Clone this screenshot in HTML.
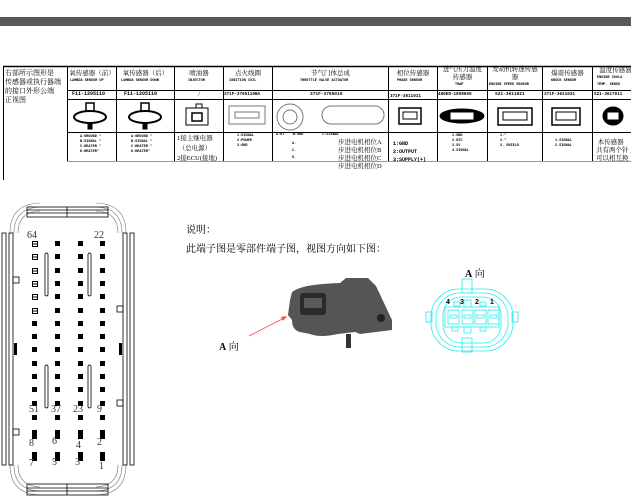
<!DOCTYPE html>
<html><head><meta charset="utf-8"><style>
body{margin:0;width:631px;height:496px;overflow:hidden;background:#fff;position:relative;font-family:"Liberation Serif","Noto Serif CJK SC",serif;color:#000}
.a{position:absolute}
.t{position:absolute;font-size:6.5px;line-height:8px;text-align:center;white-space:nowrap}
.s{position:absolute;font-size:3.5px;line-height:5px;font-family:"Liberation Mono",monospace;font-weight:bold;white-space:nowrap}
.p{position:absolute;width:5px;height:5px;background:#000}
</style></head><body>
<div class="a" style="left:0;top:17px;width:631px;height:9px;background:#595959"></div>

<svg class="a" style="left:0;top:0" width="631" height="200">
<g stroke="#000" stroke-width="1" fill="none">
<line x1="3" y1="66.5" x2="631" y2="66.5" stroke-width="1.5"/>
<line x1="3.5" y1="66" x2="3.5" y2="180"/>
<line x1="67" y1="90.5" x2="631" y2="90.5"/>
<line x1="67" y1="99.5" x2="631" y2="99.5"/>
<line x1="67" y1="132.5" x2="631" y2="132.5"/>
<line x1="67" y1="161.5" x2="631" y2="161.5" stroke="#999"/>
<g>
<line x1="67.5" y1="66" x2="67.5" y2="161"/><line x1="116.5" y1="66" x2="116.5" y2="161"/>
<line x1="174.5" y1="66" x2="174.5" y2="161"/><line x1="223.5" y1="66" x2="223.5" y2="161"/>
<line x1="272.5" y1="66" x2="272.5" y2="161"/><line x1="388.5" y1="66" x2="388.5" y2="161"/>
<line x1="437.5" y1="66" x2="437.5" y2="161"/><line x1="487.5" y1="66" x2="487.5" y2="161"/>
<line x1="542.5" y1="66" x2="542.5" y2="161"/><line x1="592.5" y1="66" x2="592.5" y2="161"/>
</g>
<ellipse cx="90" cy="117" rx="16" ry="6" stroke-width="2"/><rect x="86" y="103" width="8" height="8" stroke-width="1.5"/><rect x="88" y="123" width="4" height="6" fill="#000"/>
<ellipse cx="145" cy="117" rx="16" ry="6" stroke-width="2"/><rect x="141" y="103" width="8" height="8" stroke-width="1.5"/><rect x="143" y="123" width="4" height="6" fill="#000"/>
<rect x="186" y="108" width="22" height="17"/><rect x="192" y="113" width="10" height="8" stroke-width="1.5"/><rect x="196" y="104" width="6" height="4"/>
<rect x="229" y="106" width="36" height="18" stroke="#777"/><rect x="235" y="112" width="24" height="6" stroke="#777"/>
<circle cx="290" cy="117" r="13" stroke="#777"/><circle cx="290" cy="117" r="7" stroke="#777"/>
<rect x="322" y="106" width="62" height="18" rx="9" stroke="#777"/>
<rect x="399" y="108" width="22" height="16" stroke-width="1.5"/><rect x="403" y="112" width="14" height="7"/>
<ellipse cx="462" cy="116" rx="22" ry="7" fill="#000"/><rect x="450" y="112" width="24" height="8" fill="#fff"/>
<rect x="498" y="108" width="34" height="17" stroke-width="1.5"/><rect x="503" y="112" width="24" height="8"/>
<rect x="552" y="108" width="28" height="17" stroke-width="1.5"/><rect x="556" y="112" width="20" height="8"/>
<ellipse cx="613" cy="116" rx="10" ry="9" fill="#000"/><rect x="607" y="112" width="12" height="8" fill="#fff"/>
</g></svg>

<div class="t" style="left:5px;top:69px;text-align:left;font-size:7px;line-height:9px">右部所示图形是<br>传感器或执行器端<br>的接口外形公端<br>正视图</div>
<div class="t" style="left:68px;top:70px;width:48px">氧传感器（前）</div><div class="s" style="left:70px;top:79px">LAMBDA SENSOR UP</div>
<div class="t" style="left:117px;top:70px;width:57px">氧传感器（后）</div><div class="s" style="left:121px;top:79px">LAMBDA SENSOR DOWN</div>
<div class="t" style="left:175px;top:70px;width:48px">喷油器</div><div class="s" style="left:188px;top:79px">INJECTOR</div>
<div class="t" style="left:224px;top:70px;width:48px">点火线圈</div><div class="s" style="left:229px;top:79px">IGNITION COIL</div>
<div class="t" style="left:273px;top:70px;width:115px">节气门体总成</div><div class="s" style="left:300px;top:79px">THROTTLE VALVE ACTUATOR</div>
<div class="t" style="left:389px;top:70px;width:48px">相位传感器</div><div class="s" style="left:397px;top:79px">PHASE SENSOR</div>
<div class="t" style="left:438px;top:66px;width:49px;line-height:7.5px">进气压力温度<br>传感器</div><div class="s" style="left:455px;top:83px">TMAP</div>
<div class="t" style="left:488px;top:66px;width:54px;line-height:7.5px">发动机转速传感<br>器</div><div class="s" style="left:489px;top:83px">ENGINE SPEED SENSOR</div>
<div class="t" style="left:543px;top:70px;width:49px">爆震传感器</div><div class="s" style="left:551px;top:79px">KNOCK SENSOR</div>
<div class="t" style="left:593px;top:67px;width:45px;line-height:7.5px">温度传感器</div><div class="s" style="left:597px;top:75px;line-height:7px">ENGINE COOLA<br>TEMP. SENSO</div>

<div class="s" style="left:72px;top:92px;font-size:5px">F11-1205110</div>
<div class="s" style="left:124px;top:92px;font-size:5px">F11-1205110</div>
<div class="t" style="left:175px;top:91px;width:48px">/</div>
<div class="s" style="left:224px;top:92px;font-size:4.3px">371F-3705110BA</div>
<div class="s" style="left:310px;top:92px;font-size:4.5px">371F-3765010</div>
<div class="s" style="left:390px;top:94px;font-size:4.3px">371F-3611011</div>
<div class="s" style="left:438px;top:92px;font-size:4.3px">480ED-1008060</div>
<div class="s" style="left:495px;top:92px;font-size:4.5px">S21-3611021</div>
<div class="s" style="left:544px;top:92px;font-size:4.3px">371F-3611031</div>
<div class="s" style="left:594px;top:92px;font-size:4.3px">S21-3617011</div>

<div class="s" style="left:80px;top:135px">A:GROUND "<br>B:SIGNAL "<br>C:HEATER "<br>D:HEATER"</div>
<div class="s" style="left:131px;top:135px">A:GROUND "<br>B:SIGNAL "<br>C:HEATER "<br>D:HEATER"</div>
<div class="t" style="left:177px;top:134px;text-align:left;line-height:10px">1接主继电器<br>&nbsp;（总电源）<br>2接ECU(接地)</div>
<div class="s" style="left:237px;top:134px">1:SIGNAL<br>2:POWER<br>3:GND</div>
<div class="s" style="left:276px;top:133px">A:HT&nbsp;&nbsp;&nbsp;&nbsp;B:GND&nbsp;&nbsp;&nbsp;&nbsp;&nbsp;&nbsp;&nbsp;&nbsp;&nbsp;C:SIGNAL</div>
<div class="s" style="left:292px;top:141px;line-height:7px">A.<br>C.<br>D.</div>
<div class="t" style="left:338px;top:139px;text-align:left;line-height:8px;font-size:6.5px">步进电机相位A<br>步进电机相位B<br>步进电机相位C<br>步进电机相位D</div>
<div class="s" style="left:393px;top:140px;font-size:5px;line-height:8px">1:GND<br>2:OUTPUT<br>3:SUPPLY(+)</div>
<div class="s" style="left:452px;top:134px">1.GND<br>2.NTC<br>3.5V<br>4.SIGNAL</div>
<div class="s" style="left:500px;top:134px">1."<br>2."<br>3. SHIELD</div>
<div class="s" style="left:555px;top:139px">1.SIGNAL<br>2.SIGNAL</div>
<div class="t" style="left:596px;top:139px;text-align:left;line-height:8px">&nbsp;本传感器<br>共有两个针<br>可以相互换</div>

<svg class="a" style="left:0;top:200px" width="140" height="296">
<g stroke="#777" fill="none" stroke-width="0.6">
<path d="M14 33 Q14 8 40 7 M10 33 Q10 4 40 3 M18 33 Q18 12 40 11"/>
<path d="M122 33 Q122 8 96 7 M126 33 Q126 4 96 3 M118 33 Q118 12 96 11"/>
<path d="M14 265 Q14 290 40 291 M10 265 Q10 294 40 295 M18 265 Q18 286 40 287"/>
<path d="M122 265 Q122 290 96 291 M126 265 Q126 294 96 295 M118 265 Q118 286 96 287"/>
</g>
<g stroke="#000" fill="none" stroke-width="0.8">
<rect x="27" y="7" width="81" height="10"/><line x1="27" y1="10" x2="108" y2="10"/><line x1="27" y1="13" x2="108" y2="13"/><line x1="67" y1="7" x2="67" y2="17"/>
<rect x="27" y="284" width="81" height="11"/><line x1="27" y1="288" x2="108" y2="288"/><line x1="27" y1="291" x2="108" y2="291"/><line x1="67" y1="284" x2="67" y2="295"/>
<rect x="2" y="33" width="4" height="232"/><rect x="9" y="33" width="4" height="232"/>
<rect x="123" y="33" width="4" height="232"/><rect x="130" y="33" width="4" height="232"/>
<rect x="13" y="77" width="6" height="6"/><rect x="13" y="229" width="6" height="6"/>
<rect x="117" y="106" width="6" height="6"/><rect x="117" y="200" width="6" height="6"/>
<rect x="45" y="53" width="3" height="43" rx="1.5"/><rect x="88" y="53" width="3" height="43" rx="1.5"/>
<rect x="45" y="165" width="3" height="43" rx="1.5"/><rect x="88" y="165" width="3" height="43" rx="1.5"/>
</g>
<rect x="14" y="143" width="3" height="12" fill="#000"/><rect x="119" y="143" width="3" height="12" fill="#000"/>
</svg>
<div id="pins"></div>
<script>
var h='',xs=[32,55,78,100];
for(var r=0;r<13;r++)for(var c=0;c<4;c++){var y=241+r*13.3;
if(c==0&&r<6)h+='<div class="a" style="left:'+xs[c]+'px;top:'+y+'px;width:4px;height:4px;border:1px solid #000;background:linear-gradient(#fff 40%,#000 40%,#000 60%,#fff 60%)"></div>';
else h+='<div class="p" style="left:'+xs[c]+'px;top:'+y+'px"></div>';}
for(var c=0;c<4;c++){h+='<div class="p" style="left:'+xs[c]+'px;top:415px"></div>';
h+='<div class="p" style="left:'+xs[c]+'px;top:430px;height:9px"></div>';
h+='<div class="p" style="left:'+xs[c]+'px;top:452px;height:9px"></div>';}
document.getElementById('pins').innerHTML=h;
</script>
<div class="a" style="left:27px;top:230px;font-size:10px;color:#333">64</div>
<div class="a" style="left:94px;top:230px;font-size:10px;color:#333">22</div>
<div class="a" style="left:29px;top:404px;font-size:10px;color:#333">51</div>
<div class="a" style="left:51px;top:404px;font-size:10px;color:#333">37</div>
<div class="a" style="left:73px;top:404px;font-size:10px;color:#333">23</div>
<div class="a" style="left:97px;top:404px;font-size:10px;color:#333">9</div>
<div class="a" style="left:29px;top:438px;font-size:10px;color:#333">8</div>
<div class="a" style="left:52px;top:436px;font-size:10px;color:#333">6</div>
<div class="a" style="left:76px;top:440px;font-size:10px;color:#333">4</div>
<div class="a" style="left:97px;top:437px;font-size:10px;color:#333">2</div>
<div class="a" style="left:29px;top:458px;font-size:10px;color:#333">7</div>
<div class="a" style="left:52px;top:457px;font-size:10px;color:#333">5</div>
<div class="a" style="left:75px;top:457px;font-size:10px;color:#333">3</div>
<div class="a" style="left:99px;top:461px;font-size:10px;color:#333">1</div>

<div class="a" style="left:186px;top:221px;font-size:10px">说明：</div>
<div class="a" style="left:186px;top:240px;font-size:10px">此端子图是零部件端子图，视图方向如下图：</div>
<div class="a" style="left:465px;top:265px;font-size:10px"><b>A</b> 向</div>
<div class="a" style="left:219px;top:338px;font-size:10px"><b>A</b> 向</div>

<svg class="a" style="left:240px;top:270px" width="391" height="110">
<path d="M52 22 Q62 14 100 13 L106 8 L128 8 L136 16 L152 50 L152 60 L120 64 L115 62 L98 64 Q80 68 70 64 L60 62 Q52 60 52 50 L48 45 L50 30 Z" fill="#555"/>
<rect x="60" y="23" width="26" height="22" rx="3" fill="#2b2b2b"/>
<rect x="64" y="28" width="18" height="10" fill="#5a5a5a"/>
<circle cx="141" cy="48" r="4" fill="#222"/>
<rect x="106" y="64" width="5" height="14" fill="#333"/>
<line x1="9" y1="66" x2="46" y2="47" stroke="#f44" stroke-width="0.8"/>
<path d="M47 46 L41 47 L43 51 Z" fill="#f44"/>
<g stroke="#2ee" fill="none" stroke-width="0.8">
<rect x="222" y="9" width="10" height="14"/><rect x="222" y="68" width="10" height="14"/>
<rect x="191" y="19" width="82" height="62" rx="28"/>
<rect x="196" y="23" width="72" height="54" rx="24"/>
<rect x="203" y="27" width="58" height="46" rx="18"/>
<rect x="205" y="37" width="54" height="20"/>
<rect x="208" y="40" width="11" height="14"/><rect x="222" y="40" width="11" height="14"/><rect x="235" y="40" width="11" height="14"/><rect x="248" y="40" width="11" height="14"/>
<rect x="210" y="45" width="7" height="3"/><rect x="224" y="45" width="7" height="3"/><rect x="237" y="45" width="7" height="3"/><rect x="250" y="45" width="7" height="3"/>
<rect x="186" y="42" width="6" height="10"/><rect x="272" y="42" width="6" height="10"/>
<rect x="214" y="32" width="6" height="4"/><rect x="224" y="30" width="7" height="7"/><rect x="240" y="32" width="6" height="4"/>
<rect x="212" y="57" width="6" height="4"/><rect x="224" y="57" width="7" height="6"/><rect x="240" y="57" width="6" height="4"/>
</g>
<text x="206" y="34" font-size="7" font-weight="bold" font-family="Liberation Sans">4</text>
<text x="220" y="34" font-size="7" font-weight="bold" font-family="Liberation Sans">3</text>
<text x="235" y="34" font-size="7" font-weight="bold" font-family="Liberation Sans">2</text>
<text x="250" y="34" font-size="7" font-weight="bold" font-family="Liberation Sans">1</text>
</svg>
</body></html>
